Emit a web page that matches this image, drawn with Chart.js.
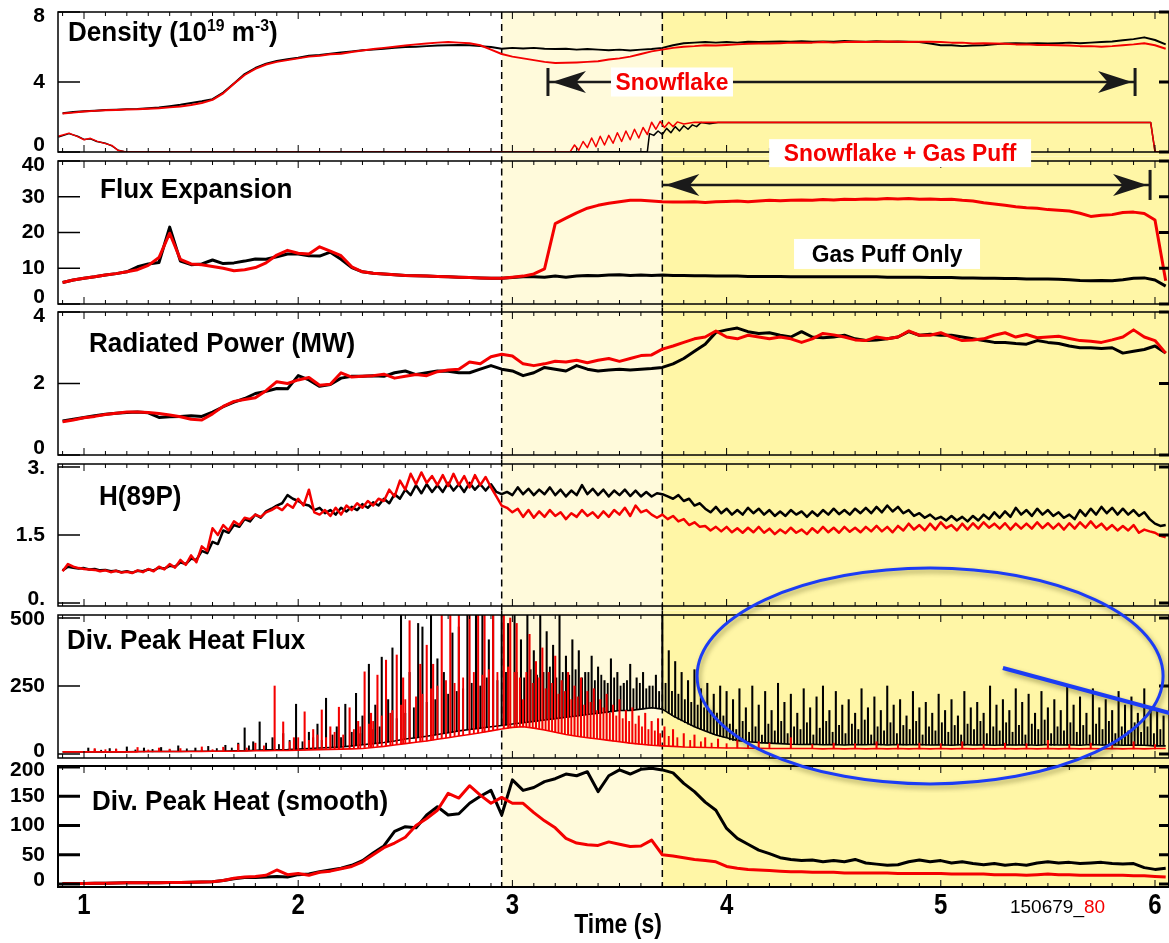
<!DOCTYPE html>
<html>
<head>
<meta charset="utf-8">
<script src="https://cdn.jsdelivr.net/npm/chart.js@4.4.1/dist/chart.umd.min.js"></script>
<style>
html, body { margin: 0; padding: 0; background: #fff; }
body { position: relative; width: 1169px; height: 943px; overflow: hidden; font-family: "Liberation Sans", Arial, sans-serif; }
canvas { position: absolute; left: 0; }
.ttl { position: absolute; z-index: 20; font-size: 28px; font-weight: bold; line-height: 1; white-space: nowrap; transform: scaleX(0.93); transform-origin: 0 0; color: #000; }
.ttl sup { font-size: 17px; line-height: 0; }
</style>
</head>
<body>
<div class="ttl" style="left:68px;top:18px">Density (10<sup>19</sup> m<sup>-3</sup>)</div>
<div class="ttl" style="left:100px;top:175px">Flux Expansion</div>
<div class="ttl" style="left:89px;top:329px">Radiated Power (MW)</div>
<div class="ttl" style="left:99px;top:482px">H(89P)</div>
<div class="ttl" style="left:67px;top:626px">Div. Peak Heat Flux</div>
<div class="ttl" style="left:92px;top:787px">Div. Peak Heat (smooth)</div>
<script>
// ---- time axis ----
const xMin = 0.8786, xMax = 6.0654;
const xTickVals = [1, 2, 3, 4, 5, 6];
const xTickLabels = ["1", "2", "3", "4", "5", "6"];
const shadeStart = 2.95, shadeSplit = 3.70;

// sample times: 0.90 .. 6.05 every 0.05 s, and 0.025 s for H(89P)
const tGrid = Array.from({ length: 104 }, (_, i) => +(0.9 + 0.05 * i).toFixed(3));
const tH = Array.from({ length: 207 }, (_, i) => +(0.9 + 0.025 * i).toFixed(3));

// ---- Density ----
const densTicks = [0, 4, 8], densLabels = ["0", "4", "8"];
const densB = [2.22,2.28,2.33,2.36,2.4,2.42,2.45,2.46,2.5,2.55,
  2.62,2.7,2.8,2.9,3.02,3.4,3.92,4.45,4.8,5.05,
  5.2,5.3,5.38,5.5,5.55,5.62,5.68,5.75,5.82,5.85,
  5.9,5.95,6.0,6.02,6.05,6.08,6.1,6.12,6.1,6.05,
  6.0,5.9,5.95,5.92,5.95,5.9,5.88,5.9,5.85,5.88,
  5.85,5.82,5.85,5.8,5.85,5.88,5.95,6.1,6.22,6.25,
  6.28,6.25,6.28,6.25,6.3,6.28,6.3,6.32,6.3,6.33,
  6.3,6.32,6.3,6.35,6.32,6.3,6.33,6.3,6.32,6.3,
  6.28,6.2,6.1,6.1,6.05,6.08,6.1,6.15,6.2,6.22,
  6.2,6.22,6.2,6.22,6.25,6.22,6.25,6.28,6.32,6.38,
  6.45,6.55,6.4,6.15];
const densR = [2.2,2.25,2.32,2.35,2.38,2.4,2.43,2.44,2.47,2.5,
  2.55,2.6,2.68,2.8,2.98,3.35,3.9,4.4,4.75,5.0,
  5.15,5.25,5.35,5.45,5.5,5.58,5.62,5.72,5.8,5.88,
  5.95,6.02,6.08,6.15,6.2,6.25,6.28,6.25,6.22,6.1,
  5.85,5.6,5.45,5.35,5.25,5.15,5.08,5.1,5.12,5.15,
  5.18,5.28,5.35,5.45,5.6,5.75,5.85,5.95,6.02,6.05,
  6.1,6.08,6.12,6.15,6.18,6.2,6.2,6.22,6.25,6.25,
  6.25,6.28,6.25,6.28,6.3,6.28,6.3,6.32,6.3,6.28,
  6.3,6.3,6.28,6.25,6.25,6.2,6.22,6.2,6.18,6.15,
  6.15,6.12,6.12,6.1,6.08,6.05,6.05,6.02,6.05,6.1,
  6.15,6.22,6.1,5.9];
// lower trace in the density panel
const valveTB = [0.88,0.93,0.97,1.0,1.03,1.06,1.1,1.13,1.16,1.19,
  3.63,3.64,3.66,3.68,3.7,3.72,3.74,3.76,3.78,3.8,3.82,3.84,3.86,3.88,3.92,3.96,5.98,6.0,6.07];
const valveB = [0.85,1.05,0.9,0.72,0.75,0.6,0.5,0.35,0.1,0.02,
  0.02,1.05,0.95,1.2,1.0,1.35,1.1,1.45,1.2,1.5,1.3,1.55,1.45,1.68,1.62,1.68,1.68,0.02,0.02];
const valveTR = [0.88,0.93,0.97,1.0,1.03,1.06,1.1,1.13,1.16,1.19,
  3.27,3.29,3.31,3.33,3.35,3.37,3.39,3.41,3.43,3.45,3.47,3.49,3.51,3.53,3.55,3.57,3.59,3.61,3.63,3.65,
  3.67,3.69,3.71,3.73,3.75,3.77,3.8,3.85,5.98,6.0,6.07];
const valveR = [0.9,1.08,0.88,0.7,0.78,0.62,0.48,0.38,0.08,0.02,
  0.02,0.4,0.1,0.6,0.25,0.8,0.3,0.9,0.4,0.95,0.5,1.1,0.6,1.2,0.7,1.3,0.8,1.4,1.0,1.7,
  1.3,1.75,1.4,1.7,1.45,1.72,1.6,1.7,1.68,0.02,0.02];

// ---- Flux expansion ----
const fluxTicks = [0, 10, 20, 30, 40], fluxLabels = ["0", "10", "20", "30", "40"];
const fluxB = [6.0,6.7,7.2,7.6,8.1,8.5,9.0,10.4,11.2,11.6,
  21.5,12.0,11.0,11.2,12.3,11.3,11.5,12.0,12.6,12.5,
  13.2,14.0,14.0,13.5,13.4,14.5,12.5,10.2,9.0,8.6,
  8.4,8.2,8.0,7.9,7.8,7.7,7.6,7.5,7.4,7.3,
  7.2,7.2,7.4,7.6,7.6,7.5,7.8,7.5,7.8,8.0,
  7.9,8.1,8.2,8.0,8.1,8.0,8.1,8.0,8.0,7.9,
  7.9,7.8,7.8,7.8,7.7,7.7,7.7,7.7,7.6,7.6,
  7.6,7.6,7.6,7.6,7.6,7.6,7.6,7.5,7.5,7.5,
  7.5,7.4,7.4,7.4,7.3,7.3,7.2,7.2,7.1,7.1,
  7.0,7.0,7.0,6.9,6.8,6.6,6.5,6.6,6.5,6.8,
  7.2,7.3,6.7,5.0];
const fluxR = [6.0,6.7,7.2,7.6,8.1,8.5,9.0,9.6,10.8,13.0,
  19.8,12.5,11.2,11.0,10.5,10.0,9.3,9.6,10.2,11.5,
  13.7,15.0,14.2,14.0,16.0,14.8,13.5,10.4,9.0,8.6,
  8.4,8.2,8.0,7.9,7.8,7.7,7.6,7.5,7.4,7.3,
  7.2,7.2,7.5,7.8,8.4,9.8,22.5,24.0,25.5,26.8,
  27.6,28.2,28.6,29.0,29.0,28.8,28.6,28.5,28.5,28.6,
  28.4,28.6,28.7,28.8,28.6,28.8,29.0,28.9,29.0,29.1,
  29.0,29.2,29.1,29.3,29.2,29.4,29.3,29.5,29.4,29.5,
  29.3,29.4,29.2,29.3,29.0,28.8,28.3,28.0,27.6,27.2,
  26.9,26.8,26.4,26.2,26.0,25.4,24.5,24.8,25.0,25.6,
  25.7,25.3,23.5,6.5];

// ---- Radiated power ----
const radTicks = [0, 2, 4], radLabels = ["0", "2", "4"];
const radB = [0.95,1.0,1.05,1.1,1.14,1.17,1.19,1.2,1.18,1.05,
  1.07,1.08,1.1,1.08,1.2,1.35,1.48,1.58,1.72,1.78,
  1.86,1.85,2.22,2.1,1.92,1.97,2.15,2.2,2.2,2.22,
  2.2,2.3,2.35,2.25,2.3,2.35,2.34,2.3,2.3,2.4,
  2.5,2.4,2.35,2.22,2.3,2.45,2.4,2.35,2.5,2.4,
  2.35,2.38,2.4,2.38,2.4,2.42,2.45,2.55,2.7,2.9,
  3.1,3.43,3.5,3.55,3.45,3.4,3.42,3.35,3.3,3.45,
  3.3,3.28,3.3,3.35,3.25,3.2,3.22,3.25,3.3,3.45,
  3.35,3.38,3.35,3.35,3.3,3.25,3.2,3.15,3.15,3.12,
  3.1,3.2,3.15,3.12,3.05,3.0,3.0,2.98,3.0,2.85,
  2.9,2.95,3.05,2.85];
const radR = [0.93,0.98,1.04,1.08,1.13,1.17,1.2,1.2,1.19,1.16,
  1.12,1.07,1.0,0.98,1.15,1.36,1.5,1.55,1.6,1.8,
  2.05,2.0,2.1,2.17,1.95,1.98,2.3,2.18,2.2,2.22,
  2.26,2.15,2.2,2.25,2.22,2.33,2.38,2.4,2.6,2.55,
  2.75,2.82,2.77,2.55,2.5,2.55,2.62,2.6,2.65,2.58,
  2.65,2.7,2.62,2.7,2.78,2.8,2.96,3.05,3.15,3.25,
  3.3,3.47,3.3,3.25,3.35,3.3,3.25,3.3,3.25,3.15,
  3.25,3.4,3.36,3.3,3.22,3.2,3.3,3.25,3.3,3.47,
  3.35,3.35,3.42,3.3,3.2,3.22,3.25,3.35,3.42,3.3,
  3.37,3.28,3.3,3.32,3.26,3.2,3.18,3.15,3.22,3.3,
  3.5,3.3,3.2,2.85];

// ---- H(89P) ----
const hTicks = [0, 1.5, 3], hLabels = ["0.", "1.5", "3."];
const hB = [0.72,0.8,0.78,0.76,0.77,0.74,0.75,0.72,0.73,0.7,0.71,0.68,0.7,0.67,0.71,0.7,0.74,0.72,0.78,0.76,
  0.82,0.8,0.9,0.86,0.98,0.95,1.15,1.1,1.35,1.3,1.6,1.55,1.72,1.68,1.85,1.8,1.95,1.88,2.02,2.08,
  2.15,2.2,2.38,2.3,2.25,2.18,2.15,2.05,2.1,1.98,2.05,1.95,2.1,2.02,2.12,2.05,2.18,2.1,2.22,2.15,
  2.3,2.2,2.4,2.3,2.5,2.38,2.6,2.42,2.62,2.45,2.6,2.45,2.65,2.48,2.62,2.45,2.65,2.5,2.62,2.48,
  2.62,2.45,2.4,2.45,2.38,2.55,2.4,2.52,2.38,2.5,2.4,2.55,2.38,2.5,2.35,2.48,2.38,2.6,2.4,2.52,
  2.38,2.5,2.35,2.48,2.38,2.5,2.36,2.48,2.35,2.45,2.35,2.42,2.4,2.35,2.3,2.38,2.25,2.3,2.15,2.2,
  2.08,2.0,2.12,1.98,2.08,1.95,2.05,1.95,2.1,1.98,2.08,1.95,2.05,1.92,2.02,1.92,2.05,1.95,2.02,1.9,
  2.02,1.92,2.05,1.95,2.08,1.96,2.05,1.95,2.08,1.98,2.1,1.98,2.12,2.0,2.15,2.02,2.12,1.98,2.05,1.92,
  1.98,1.88,1.95,1.85,1.9,1.82,1.92,1.82,1.9,1.8,1.92,1.82,1.95,1.85,2.0,1.88,2.02,1.9,2.1,1.95,
  2.05,1.92,2.08,1.95,2.05,1.92,2.0,1.88,1.95,1.85,2.05,1.92,2.08,1.95,2.12,1.98,2.1,1.95,2.08,1.95,
  2.05,1.92,2.0,1.85,1.75,1.7,1.72];
const hR = [0.7,0.86,0.8,0.77,0.75,0.74,0.73,0.7,0.72,0.68,0.71,0.67,0.69,0.66,0.72,0.68,0.75,0.7,0.8,0.74,
  0.86,0.78,0.95,0.84,1.05,0.9,1.25,1.15,1.65,1.5,1.72,1.6,1.8,1.72,1.88,1.85,1.95,1.9,2.0,2.05,
  2.12,2.05,2.18,2.1,2.3,2.15,2.5,2.0,1.95,2.05,1.92,2.1,1.95,2.15,2.05,2.2,2.1,2.25,2.15,2.3,
  2.25,2.5,2.35,2.7,2.5,2.85,2.62,2.88,2.65,2.8,2.6,2.82,2.58,2.85,2.6,2.8,2.55,2.82,2.6,2.78,
  2.55,2.35,2.15,2.1,2.0,2.08,1.9,2.05,1.88,2.02,1.9,2.05,1.92,2.0,1.85,1.98,1.9,2.05,1.92,2.0,
  1.88,2.02,1.9,2.05,1.95,2.1,1.92,2.15,2.0,2.05,1.95,1.88,1.95,1.85,1.92,1.8,1.85,1.72,1.78,1.68,
  1.7,1.6,1.68,1.58,1.68,1.56,1.65,1.55,1.66,1.56,1.68,1.55,1.64,1.52,1.62,1.54,1.66,1.55,1.62,1.52,
  1.65,1.55,1.68,1.56,1.66,1.55,1.68,1.57,1.66,1.56,1.68,1.58,1.7,1.58,1.68,1.56,1.7,1.6,1.75,1.62,
  1.72,1.6,1.75,1.62,1.78,1.65,1.72,1.6,1.75,1.62,1.76,1.64,1.78,1.66,1.75,1.64,1.76,1.62,1.75,1.64,
  1.75,1.64,1.78,1.65,1.76,1.64,1.75,1.62,1.76,1.64,1.78,1.66,1.8,1.66,1.75,1.62,1.72,1.6,1.7,1.6,
  1.72,1.55,1.62,1.58,1.55,1.48,1.45];

// ---- Div. peak heat flux: baseline + ELM spikes [time, base, peak] ----
const qTicks = [0, 250, 500], qLabels = ["0", "250", "500"];
const qBaseB = [8,8,8,8,8,8,8,9,9,9, 9,9,10,10,10,10,12,12,14,15,
  15,16,18,20,22,24,26,30,34,38, 42,48,55,60,65,72,78,85,90,95,
  100,105,110,115,120,125,130,135,140,145, 150,155,160,160,165,170,165,140,120,100,
  85,70,60,50,45,42,40,38,36,35, 36,34,35,33,35,34,36,33,35,34,
  35,33,34,32,35,33,34,32,34,33, 34,32,35,33,34,32,35,33,34,32, 33,32,30,30];
const qBaseR = [8,8,8,8,8,8,8,8,9,9, 9,9,9,9,10,10,10,11,12,12,
  13,13,14,15,16,17,18,19,20,24, 28,33,38,43,48,54,60,66,72,78,
  85,92,98,100,95,88,80,72,65,60, 55,50,45,40,36,32,30,28,26,25,
  24,23,22,22,21,21,20,20,20,20, 20,19,20,19,20,19,20,19,20,19,
  20,19,20,19,20,19,20,19,20,19, 20,19,20,19,20,19,20,19,20,19, 20,19,20,20];
const qSpikesB = [[1.02,8,22],[1.12,8,20],[1.2,8,26],[1.28,8,22],[1.36,9,24],[1.44,9,30],[1.52,9,22],[1.58,10,28],[1.66,10,32],[1.72,12,40],
  [1.75,12,96],[1.79,13,45],[1.82,14,118],[1.88,15,60],[1.93,15,75],[1.99,17,183],[2.05,20,80],[2.09,21,110],[2.13,23,205],[2.18,25,100],
  [2.22,27,183],[2.27,31,223],[2.3,34,140],[2.33,36,330],[2.36,38,180],[2.39,41,356],[2.42,44,200],[2.44,46,390],[2.48,52,520],[2.52,57,300],
  [2.56,61,480],[2.58,63,467],[2.62,68,520],[2.65,72,350],[2.68,75,300],[2.72,80,445],[2.75,85,467],[2.79,89,520],[2.83,93,520],[2.86,96,520],
  [2.89,99,420],[2.91,101,520],[2.95,105,520],[2.98,108,480],[3.01,111,520],[3.04,114,420],[3.07,117,520],[3.1,120,380],[3.13,123,520],[3.16,126,450],
  [3.19,129,400],[3.22,132,520],[3.25,135,360],[3.28,138,420],[3.31,141,380],[3.34,144,300],[3.37,147,360],[3.4,150,320],[3.43,153,270],[3.46,156,350],
  [3.49,159,300],[3.52,160,260],[3.55,160,330],[3.58,163,280],[3.61,166,300],[3.64,168,250],[3.67,170,290],[3.7,165,520],[3.73,150,380],[3.76,135,340],
  [3.79,122,300],[3.82,110,270],[3.85,100,310],[3.88,90,240],[3.91,82,260],[3.94,72,220],[3.97,65,250],[4.0,60,230],
  [4.03,50,200],[4.06,48,240],[4.09,45,170],[4.12,44,250],[4.15,42,180],[4.18,41,230],[4.21,40,160],[4.24,39,260],[4.27,38,190],[4.3,37,220],
  [4.33,36,150],[4.36,36,240],[4.39,35,170],[4.42,35,210],[4.45,34,250],[4.48,35,160],[4.51,34,230],[4.54,35,180],[4.57,34,200],[4.6,35,150],
  [4.63,34,240],[4.66,36,170],[4.69,34,210],[4.72,33,160],[4.75,35,250],[4.78,34,180],[4.81,35,200],[4.84,33,140],[4.87,35,230],[4.9,34,170],
  [4.93,33,190],[4.96,34,150],[4.99,35,220],[5.02,33,160],[5.05,34,200],[5.08,33,140],[5.11,32,230],[5.14,34,170],[5.17,33,190],[5.2,35,150],
  [5.23,33,250],[5.26,34,180],[5.29,32,200],[5.32,34,160],[5.35,33,240],[5.38,34,190],[5.41,32,220],[5.44,35,150],[5.47,33,230],[5.5,34,170],
  [5.53,32,200],[5.56,35,160],[5.59,33,250],[5.62,34,180],[5.65,32,210],[5.68,35,150],[5.71,33,240],[5.74,34,170],[5.77,32,200],[5.8,35,160],
  [5.83,33,230],[5.86,34,180],[5.89,32,210],[5.92,33,150],[5.95,32,240],[5.98,31,170],[6.01,30,160],[6.04,30,140]];
// smaller ELMs in between the large ones
const qSmallB = [[1.05,8,16],[1.08,8,14],[1.15,8,18],[1.24,8,15],[1.32,8,17],[1.4,9,16],[1.48,9,19],[1.55,9,15],[1.62,10,20],[1.69,11,22],
  [1.77,12,30],[1.85,14,40],[1.91,15,35],[1.96,16,50],[2.02,19,45],[2.07,20,60],[2.11,22,50],[2.16,24,70],[2.2,26,60],[2.25,29,80],
  [2.29,33,75],[2.35,37,90],[2.38,40,100],[2.41,43,110],[2.46,50,130],[2.5,55,150],[2.54,59,170],[2.6,66,190],[2.64,70,200],[2.7,78,220],
  [2.74,83,230],[2.77,87,240],[2.81,91,260],[2.85,95,250],[2.88,98,280],[2.93,103,270],[2.97,107,300],[3.02,112,300],[3.055,116,280],[3.085,118,310],
  [3.115,121,290],[3.145,124,300],[3.175,127,320],[3.205,130,280],[3.235,133,300],[3.265,136,290],[3.295,139,310],[3.325,142,280],[3.355,145,300],[3.385,148,270],
  [3.415,151,290],[3.445,154,260],[3.475,157,280],[3.505,160,250],[3.535,160,270],[3.565,161,240],[3.595,164,260],[3.625,167,240],[3.655,169,250],[3.685,168,230],
  [3.715,160,260],[3.745,142,230],[3.775,128,220],[3.805,115,200],[3.835,105,190],[3.865,95,180],[3.895,86,170],[3.925,77,160],[3.955,68,150],[3.985,62,140],
  [4.015,52,110],[4.045,49,90],[4.075,46,120],[4.105,44,80],[4.135,43,100],[4.165,41,70],[4.195,40,110],[4.225,39,85],[4.255,38,120],[4.285,37,75],
  [4.315,36,100],[4.345,36,90],[4.375,35,115],[4.405,35,70],[4.435,34,95],[4.465,35,120],[4.495,34,80],[4.525,35,105],[4.555,34,75],[4.585,35,110],
  [4.615,34,90],[4.645,36,125],[4.675,34,70],[4.705,33,100],[4.735,35,85],[4.765,34,115],[4.795,35,75],[4.825,33,105],[4.855,35,90],[4.885,34,120],
  [4.915,33,70],[4.945,34,100],[4.975,35,85],[5.005,33,115],[5.035,34,80],[5.065,33,105],[5.095,32,70],[5.125,34,110],[5.155,33,90],[5.185,35,120],
  [5.215,33,75],[5.245,34,100],[5.275,32,85],[5.305,34,115],[5.335,33,80],[5.365,34,105],[5.395,32,70],[5.425,35,110],[5.455,33,90],[5.485,34,125],
  [5.515,32,75],[5.545,35,100],[5.575,33,85],[5.605,34,115],[5.635,32,80],[5.665,35,105],[5.695,33,70],[5.725,34,110],[5.755,32,90],[5.785,35,120],
  [5.815,33,75],[5.845,34,100],[5.875,32,85],[5.905,33,115],[5.935,32,80],[5.965,31,100],[5.995,30,75],[6.025,30,90]];
const qSpikesR = [[1.05,8,20],[1.15,8,18],[1.25,8,24],[1.35,9,22],[1.45,9,20],[1.55,9,26],[1.65,10,25],[1.72,10,35],[1.8,12,40],
  [1.89,13,250],[1.93,13,118],[1.98,14,60],[2.03,15,155],[2.07,16,90],[2.11,17,162],[2.15,18,100],[2.19,19,172],[2.24,20,170],[2.28,22,120],
  [2.31,24,302],[2.34,26,150],[2.37,28,290],[2.41,31,345],[2.46,36,364],[2.49,38,280],[2.52,41,490],[2.57,46,330],[2.6,48,400],[2.63,52,330],
  [2.67,57,520],[2.71,62,520],[2.75,67,520],[2.8,72,520],[2.84,77,520],[2.87,81,520],[2.91,86,520],[2.96,93,520],[2.99,97,500],[3.02,99,480],
  [3.05,100,200],[3.08,98,440],[3.11,94,340],[3.14,90,390],[3.17,86,300],[3.2,80,360],[3.23,76,270],[3.26,72,300],[3.29,67,250],[3.32,63,280],
  [3.35,60,230],[3.38,57,240],[3.41,55,200],[3.44,51,220],[3.47,48,180],[3.5,45,200],[3.53,42,160],[3.56,39,170],[3.59,36,140],[3.62,34,150],
  [3.65,32,120],[3.68,31,130],[3.71,30,100],[3.75,28,90],[3.8,26,75],[3.85,25,70],[3.9,24,60],[3.96,23,55],[4.05,22,50],[4.15,21,45],
  [4.3,20,60],[4.5,20,40],[4.7,19,45],[4.9,19,40],[5.1,19,45],[5.3,19,40],[5.5,19,50],[5.7,19,40],[5.9,19,45]];
const qSmallR = [[1.1,8,16],[1.3,8,15],[1.4,9,18],[1.6,10,16],[1.76,11,22],[1.84,12,30],[1.96,14,45],[2.0,15,60],[2.05,16,50],[2.09,16,70],
  [2.13,17,60],[2.17,18,80],[2.21,19,70],[2.26,21,90],[2.29,23,100],[2.33,25,110],[2.35,27,120],[2.39,30,140],[2.43,33,150],[2.44,34,160],
  [2.48,37,180],[2.5,40,200],[2.55,44,210],[2.58,47,220],[2.62,51,240],[2.65,55,250],[2.69,60,270],[2.73,64,260],[2.77,69,280],[2.82,75,300],
  [2.86,80,290],[2.89,84,310],[2.93,89,300],[2.98,95,320],[3.01,98,300],[3.035,100,280],[3.065,99,300],[3.095,96,260],[3.125,92,280],[3.155,88,240],
  [3.185,83,260],[3.215,78,220],[3.245,74,230],[3.275,70,200],[3.305,65,210],[3.335,62,180],[3.365,58,190],[3.395,56,160],[3.425,53,170],[3.455,50,150],
  [3.485,46,140],[3.515,43,130],[3.545,40,120],[3.575,37,110],[3.605,35,100],[3.635,33,90],[3.665,31,85],[3.69,30,75],[3.73,29,65],[3.77,27,60],
  [3.83,25,50],[3.88,24,45],[3.93,23,40],[4.0,22,38],[4.1,21,35],[4.2,21,40],[4.4,20,35],[4.6,20,38],[4.8,19,35],[5.0,19,38],
  [5.2,19,35],[5.4,19,38],[5.6,19,35],[5.8,19,38],[6.0,19,35]];

// ---- Div. peak heat (smooth) ----
const sTicks = [0, 50, 100, 150, 200], sLabels = ["0", "50", "100", "150", "200"];
const smB = [1,1,1,1.2,1.5,1.8,2,2,2,2.2,
  2.5,2.8,3,3.5,4,6,9,11,11,12,
  13,12,16,17,21,24,27,32,40,53,
  65,90,98,96,118,132,118,120,138,150,
  160,118,178,160,165,175,180,188,185,192,
  158,185,195,188,196,198,195,190,172,158,
  140,126,95,78,68,58,52,45,42,40,
  41,38,40,38,42,36,34,32,33,38,
  41,38,40,36,38,35,33,35,32,34,
  32,36,38,36,37,35,36,37,35,34,
  35,28,25,27];
const smR = [1,1,1,1.2,1.5,1.8,2,2,2,2.2,
  2.5,2.8,3,3.5,4,6,10,12,13,15,
  24,16,18,15,20,22,26,30,38,50,
  62,70,80,100,112,126,155,147,168,152,
  138,148,138,138,122,108,96,78,70,67,
  66,72,68,64,65,75,50,48,45,42,
  40,38,30,27,25,24,23,22,21,21,
  20,20,20,19,19,19,19,19,18,18,
  18,18,18,17,17,17,17,16,16,16,
  15,16,17,16,16,15,15,15,15,15,
  14,14,13,12];

// ---- annotation anchors (data coordinates) ----
const snowSpan = [3.166, 5.907], snowLevel = 4.0, snowBar = [3.2, 4.8], snowLabelT = 3.745;
const comboSpan = [3.70, 5.977], comboLevel = 33.3, comboBar = [29.1, 37.5];
const comboLabel = [4.81, 42.2], gasLabel = [4.749, 14.0];
const ringCenter = [4.95, 287], lineFrom = [5.29, 316], lineTo = [6.08, 148];
const timeLabelT = 3.493, shotT = 5.323;

const FONT = '"Liberation Sans", Arial, sans-serif';
const RED = "#f40000", BLACK = "#000000", BLUE = "#1c3cf4";
const LIGHT_Y = "#fffadb", DARK_Y = "#fff6a6";

function pts(ts, vs) {
  return ts.map((t, i) => ({ x: t, y: vs[i] }));
}
function lineDs(ts, vs, color, w) {
  return { type: "line", data: pts(ts, vs), borderColor: color, borderWidth: w,
    pointRadius: 0, tension: 0, borderJoinStyle: "round", clip: 0 };
}
function spikeDs(list, color, w) {
  return { type: "bar", data: list.map((s) => ({ x: s[0], y: [s[1], s[2]] })),
    backgroundColor: color, barThickness: w || 1.3, grouped: false, borderWidth: 0, clip: 0 };
}

function txt(ctx, s, x, y, size, color, sx, align, weight) {
  ctx.save();
  ctx.translate(x, y);
  ctx.scale(sx, 1);
  ctx.font = (weight || "bold") + " " + size + "px " + FONT;
  ctx.fillStyle = color;
  ctx.textAlign = align || "center";
  ctx.textBaseline = "middle";
  ctx.fillText(s, 0, 0);
  ctx.restore();
}
function boxLabel(ctx, s, cx, cy, w, h, color) {
  ctx.fillStyle = "#fff";
  ctx.fillRect(cx - w / 2, cy - h / 2, w, h);
  txt(ctx, s, cx, cy + 1, 24, color, 0.95);
}
function seg(ctx, x1, y1, x2, y2) {
  ctx.beginPath();
  ctx.moveTo(x1, y1);
  ctx.lineTo(x2, y2);
  ctx.stroke();
}
function head(ctx, tip, y, dir) {
  const L = 34, W = 11;
  ctx.beginPath();
  ctx.moveTo(tip, y);
  ctx.lineTo(tip - dir * L, y - W);
  ctx.lineTo(tip - dir * L * 0.72, y);
  ctx.lineTo(tip - dir * L, y + W);
  ctx.closePath();
  ctx.fill();
}

function drawSnowflake(chart) {
  const { ctx, scales: { x, y } } = chart;
  const xa = x.getPixelForValue(snowSpan[0]), xb = x.getPixelForValue(snowSpan[1]);
  const yc = y.getPixelForValue(snowLevel);
  const y1 = y.getPixelForValue(snowBar[0]), y2 = y.getPixelForValue(snowBar[1]);
  ctx.save();
  ctx.strokeStyle = "#1a1a1a";
  ctx.fillStyle = "#1a1a1a";
  ctx.lineWidth = 2.5;
  seg(ctx, xa, yc, xb, yc);
  ctx.lineWidth = 3;
  seg(ctx, xa, y1, xa, y2);
  seg(ctx, xb, y1, xb, y2);
  head(ctx, xa + 4, yc, -1);
  head(ctx, xb - 3, yc, 1);
  boxLabel(ctx, "Snowflake", x.getPixelForValue(snowLabelT), yc, 122, 29, RED);
  ctx.restore();
}

function drawCombo(chart) {
  const { ctx, scales: { x, y } } = chart;
  const xa = x.getPixelForValue(comboSpan[0]), xb = x.getPixelForValue(comboSpan[1]);
  const yc = y.getPixelForValue(comboLevel);
  ctx.save();
  ctx.strokeStyle = "#1a1a1a";
  ctx.fillStyle = "#1a1a1a";
  ctx.lineWidth = 2.5;
  seg(ctx, xa, yc, xb, yc);
  ctx.lineWidth = 3;
  seg(ctx, xb, y.getPixelForValue(comboBar[0]), xb, y.getPixelForValue(comboBar[1]));
  head(ctx, xa + 3, yc, -1);
  head(ctx, xb - 3, yc, 1);
  boxLabel(ctx, "Snowflake + Gas Puff", x.getPixelForValue(comboLabel[0]), y.getPixelForValue(comboLabel[1]), 262, 28, RED);
  boxLabel(ctx, "Gas Puff Only", x.getPixelForValue(gasLabel[0]), y.getPixelForValue(gasLabel[1]), 186, 30, BLACK);
  ctx.restore();
}

function drawRing(chart) {
  const { ctx, scales: { x, y } } = chart;
  ctx.save();
  ctx.strokeStyle = BLUE;
  ctx.shadowColor = "rgba(60,60,0,0.45)";
  ctx.shadowBlur = 5;
  ctx.shadowOffsetX = 2;
  ctx.shadowOffsetY = 3;
  ctx.lineWidth = 3;
  ctx.beginPath();
  ctx.ellipse(x.getPixelForValue(ringCenter[0]), y.getPixelForValue(ringCenter[1]), 233, 108, 0, 0, Math.PI * 2);
  ctx.stroke();
  ctx.lineWidth = 4;
  seg(ctx, x.getPixelForValue(lineFrom[0]), y.getPixelForValue(lineFrom[1]),
    x.getPixelForValue(lineTo[0]), y.getPixelForValue(lineTo[1]));
  ctx.restore();
}

function drawTimeAxis(chart) {
  const { ctx, chartArea: a, scales: { x } } = chart;
  xTickVals.forEach((v, i) => txt(ctx, xTickLabels[i], x.getPixelForValue(v), a.bottom + 19, 30, BLACK, 0.8));
  txt(ctx, "Time (s)", x.getPixelForValue(timeLabelT), a.bottom + 38, 28, BLACK, 0.82);
  ctx.save();
  ctx.font = "19px " + FONT;
  ctx.textBaseline = "middle";
  ctx.textAlign = "left";
  const sx = x.getPixelForValue(shotT), sy = a.bottom + 21;
  ctx.fillStyle = BLACK;
  ctx.fillText("150679_", sx, sy);
  ctx.fillStyle = RED;
  ctx.fillText("80", sx + ctx.measureText("150679_").width, sy);
  ctx.restore();
}

const panels = [
  { top: 12, bottom: 152, padT: 12, padB: 30, gapT: 0, gapB: 4.5, yMin: 0, yMax: 8,
    ticks: densTicks, labels: densLabels, yTickW: 1.5, frameW: 1.5, draw: drawSnowflake,
    sets: () => [lineDs(tGrid, densR, RED, 2), lineDs(valveTR, valveR, RED, 1.5),
      lineDs(tGrid, densB, BLACK, 2), lineDs(valveTB, valveB, BLACK, 1.5)] },
  { top: 161, bottom: 304, padT: 30, padB: 30, gapT: 4.5, gapB: 4, yMin: 0, yMax: 40,
    ticks: fluxTicks, labels: fluxLabels, yTickW: 1.5, frameW: 1.5, draw: drawCombo,
    sets: () => [lineDs(tGrid, fluxR, RED, 3), lineDs(tGrid, fluxB, BLACK, 3)] },
  { top: 312, bottom: 455, padT: 30, padB: 30, gapT: 4, gapB: 4.5, yMin: 0, yMax: 4,
    ticks: radTicks, labels: radLabels, yTickW: 1.5, frameW: 1.5,
    sets: () => [lineDs(tGrid, radR, RED, 3), lineDs(tGrid, radB, BLACK, 3)] },
  { top: 464, bottom: 606, padT: 30, padB: 30, gapT: 4.5, gapB: 4.5, yMin: -0.066, yMax: 3.066,
    ticks: hTicks, labels: hLabels, yTickW: 1.5, frameW: 1.5,
    sets: () => [lineDs(tH, hR, RED, 2.5), lineDs(tH, hB, BLACK, 2.5)] },
  { top: 615, bottom: 758, padT: 55, padB: 35, gapT: 4.5, gapB: 4, yMin: -14.7, yMax: 511, z: 5,
    ticks: qTicks, labels: qLabels, yTickW: 1.5, frameW: 1.5, draw: drawRing,
    sets: () => [spikeDs(qSpikesR, RED, 1.4), spikeDs(qSmallR, RED, 1.2), lineDs(tGrid, qBaseR, RED, 1.6),
      spikeDs(qSpikesB, BLACK, 1.4), spikeDs(qSmallB, BLACK, 1.2), lineDs(tGrid, qBaseB, BLACK, 1.6)] },
  { top: 766, bottom: 887, padT: 30, padB: 60, gapT: 4, gapB: 0, yMin: -5.1, yMax: 201.7,
    ticks: sTicks, labels: sLabels, yTickW: 3, frameW: 2, draw: drawTimeAxis,
    sets: () => [lineDs(tGrid, smR, RED, 3), lineDs(tGrid, smB, BLACK, 3)] },
];

const deco = {
  id: "deco",
  beforeDatasetsDraw(chart, args, opts) {
    const p = panels[opts.idx];
    const { ctx, chartArea: a, scales: { x } } = chart;
    const x1 = x.getPixelForValue(shadeStart), x2 = x.getPixelForValue(shadeSplit);
    const top = a.top - p.gapT, bot = a.bottom + p.gapB;
    ctx.save();
    ctx.fillStyle = LIGHT_Y;
    ctx.fillRect(x1, top, x2 - x1, bot - top);
    ctx.fillStyle = DARK_Y;
    ctx.fillRect(x2, top, a.right - x2, bot - top);
    ctx.strokeStyle = BLACK;
    ctx.lineWidth = 1.5;
    ctx.setLineDash([7, 5]);
    [x1, x2].forEach((px) => seg(ctx, px, top, px, bot));
    ctx.restore();
  },
  afterDatasetsDraw(chart, args, opts) {
    const p = panels[opts.idx];
    const { ctx, chartArea: a, scales: { x, y } } = chart;
    ctx.save();
    ctx.strokeStyle = BLACK;
    ctx.lineWidth = 1;
    for (let k = 9; k <= 60; k++) {
      const px = x.getPixelForValue(k / 10);
      const len = k % 10 === 0 ? 7 : 4;
      seg(ctx, px, a.top, px, a.top + len);
      seg(ctx, px, a.bottom, px, a.bottom - len);
    }
    p.ticks.forEach((v, i) => {
      const py = y.getPixelForValue(v);
      ctx.lineWidth = p.yTickW;
      seg(ctx, a.left, py, a.left + 22, py);
      ctx.lineWidth = 3;
      seg(ctx, a.right - 10, py, a.right, py);
      // tick labels kept inside the frame, as in the original plot
      const ly = Math.min(Math.max(py, a.top + 4), a.bottom - 7);
      txt(ctx, p.labels[i], a.left - 13, ly, 21, BLACK, 1, "right");
    });
    ctx.lineWidth = p.frameW;
    ctx.strokeRect(a.left, a.top, a.right - a.left, a.bottom - a.top);
    ctx.restore();
  },
  afterDraw(chart, args, opts) {
    const p = panels[opts.idx];
    if (p.draw) p.draw(chart);
  },
};

panels.forEach((p, idx) => {
  const cv = document.createElement("canvas");
  cv.width = 1169;
  cv.height = p.bottom - p.top + p.padT + p.padB;
  cv.style.top = (p.top - p.padT) + "px";
  cv.style.zIndex = p.z || 1;
  document.body.appendChild(cv);
  new Chart(cv, {
    type: "line",
    data: { datasets: p.sets() },
    options: {
      responsive: false,
      animation: false,
      devicePixelRatio: 1,
      layout: { padding: { top: p.padT, bottom: p.padB, left: 0, right: 0 } },
      plugins: { legend: { display: false }, tooltip: { enabled: false }, deco: { idx: idx } },
      scales: {
        x: { type: "linear", min: xMin, max: xMax, display: false, offset: false },
        y: {
          type: "linear", min: p.yMin, max: p.yMax,
          afterFit: (s) => { s.width = 58; },
          afterBuildTicks: (s) => { s.ticks = p.ticks.map((v) => ({ value: v })); },
          ticks: { display: false },
          grid: { display: false, drawTicks: false },
          border: { display: false },
        },
      },
    },
    plugins: [deco],
  });
});
</script>
</body>
</html>
